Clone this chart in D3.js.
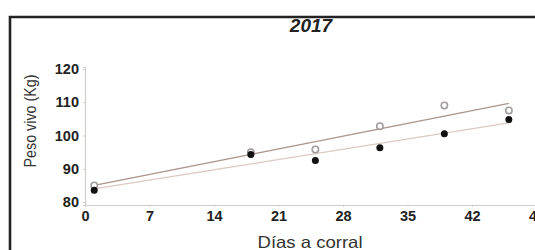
<!DOCTYPE html>
<html><head><meta charset="utf-8">
<script src="https://cdn.jsdelivr.net/npm/d3@7"></script>
<style>html,body{margin:0;padding:0;overflow:hidden;background:#fff}svg{display:block;overflow:hidden}text{font-family:"Liberation Sans",Arial,sans-serif}</style>
</head><body>
<svg id="c" width="535" height="250"></svg>
<script>
const days = [1, 18, 25, 32, 39, 46];
const openValues = [85.0, 95.0, 95.8, 102.8, 109.0, 107.5];
const filledValues = [83.5, 94.3, 92.5, 96.3, 100.5, 104.8];
const xTicks = [0, 7, 14, 21, 28, 35, 42, 49];
const yTicks = [80, 90, 100, 110, 120];
const title = "2017";
const xLabel = "Días a corral";
const yLabel = "Peso vivo (Kg)";

const svg = d3.select("#c");
const x = d3.scaleLinear().domain([0, 49]).range([85, 536.5]);
const y = d3.scaleLinear().domain([79.1, 120.6]).range([205, 67]);

// frame (left and top edges visible; right/bottom fall outside the picture)
svg.append("path").attr("d", "M10,260 V17 H545")
  .attr("fill", "none").attr("stroke", "#222").attr("stroke-width", 2.6);

// axes
const axisColor = "#d4ccc8";
const yAxis = svg.append("g").attr("transform", "translate(85,0)")
  .call(d3.axisLeft(y).tickValues(yTicks).tickSize(2).tickPadding(4));
const xAxis = svg.append("g").attr("transform", "translate(0,205)")
  .call(d3.axisBottom(x).tickValues(xTicks).tickSize(2).tickPadding(6));
[yAxis, xAxis].forEach(a => {
  a.select(".domain").attr("stroke", axisColor).attr("stroke-width", 1.2);
  a.selectAll(".tick line").attr("stroke", axisColor);
  a.selectAll(".tick text").attr("fill", "#222").attr("font-size", 14.5).attr("font-weight", "bold")
    .attr("font-family", "'Liberation Sans',Arial,sans-serif");
});
xAxis.selectAll(".tick text").attr("dy", "0.71em").attr("y", 6);

// regression lines
function fit(xs, ys) {
  const mx = d3.mean(xs), my = d3.mean(ys);
  const sxy = d3.sum(xs, (v, i) => (v - mx) * (ys[i] - my));
  const sxx = d3.sum(xs, v => (v - mx) * (v - mx));
  const b = sxy / sxx;
  return d => my + b * (d - mx);
}
const ends = d3.extent(days);
const line = d3.line().x(d => x(d[0])).y(d => y(d[1]));
[[openValues, "#ab948c"], [filledValues, "#dcc8c4"]].forEach(([vals, col]) => {
  const f = fit(days, vals);
  svg.append("path").attr("d", line(ends.map(d => [d, f(d)])))
    .attr("fill", "none").attr("stroke", col).attr("stroke-width", 1.3);
});

// points
svg.selectAll(".op").data(days).enter().append("circle")
  .attr("cx", d => x(d)).attr("cy", (d, i) => y(openValues[i])).attr("r", 3.2)
  .attr("fill", "#fff").attr("stroke", "#a09a9a").attr("stroke-width", 1.5);
svg.selectAll(".fp").data(days).enter().append("circle")
  .attr("cx", d => x(d)).attr("cy", (d, i) => y(filledValues[i])).attr("r", 3.5)
  .attr("fill", "#111");

// title
svg.append("text").attr("x", 311).attr("y", 32).attr("text-anchor", "middle")
  .attr("font-size", 19).attr("font-weight", "bold").attr("font-style", "italic")
  .attr("fill", "#222").text(title);

// axis labels
svg.append("text").attr("x", 310).attr("y", 248).attr("text-anchor", "middle")
  .attr("font-size", 16.5).attr("textLength", 105).attr("lengthAdjust", "spacingAndGlyphs")
  .attr("fill", "#333").text(xLabel);
svg.append("text").attr("transform", "translate(36,121) rotate(-90)").attr("text-anchor", "middle")
  .attr("font-size", 17).attr("textLength", 93).attr("lengthAdjust", "spacingAndGlyphs")
  .attr("fill", "#333").text(yLabel);
</script>
</body></html>
